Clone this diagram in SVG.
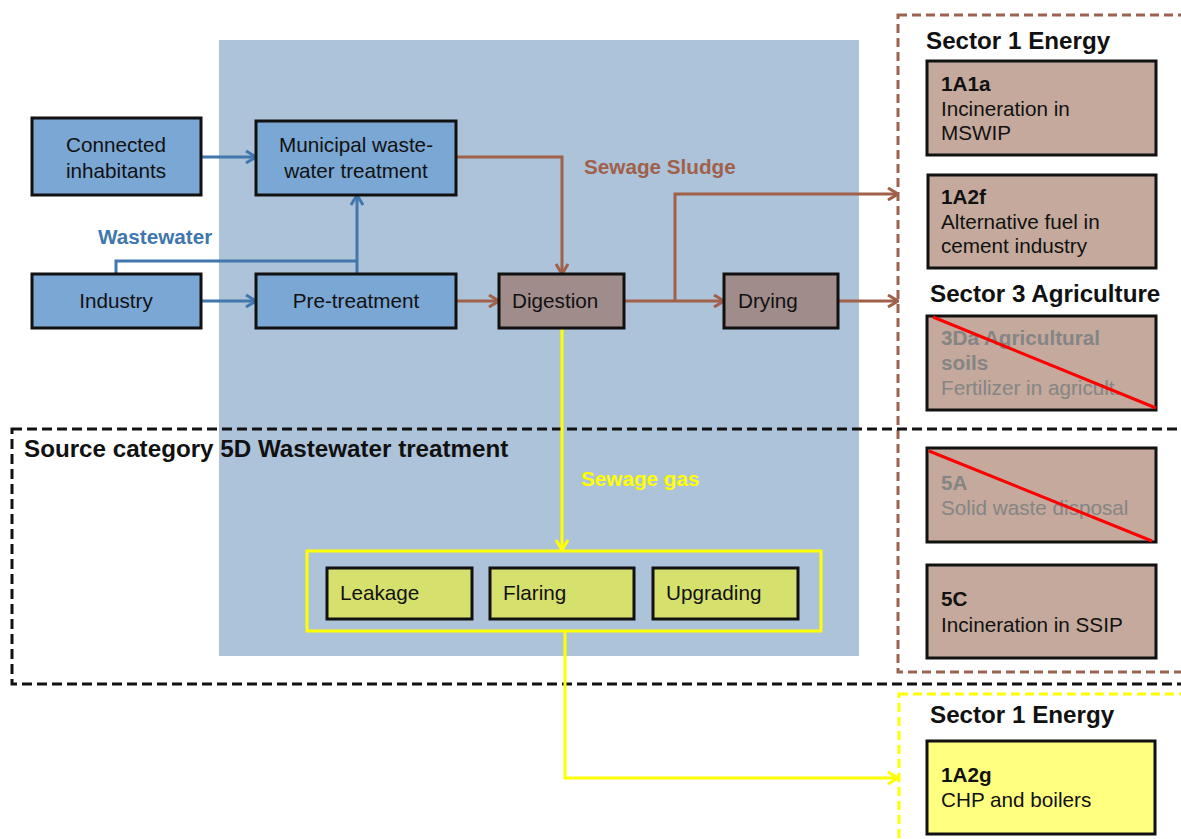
<svg xmlns="http://www.w3.org/2000/svg" width="1181" height="839" viewBox="0 0 1181 839">
<style>
text{font-family:"Liberation Sans",Arial,sans-serif;fill:#111}
.n{font-size:20.7px}
.h{font-size:24.2px;font-weight:bold}
.b{font-weight:bold}
.box{stroke:#111;stroke-width:3}
.blue{fill:#7aa7d4}
.dig{fill:#a08c8a}
.sec{fill:#c4a99c}
.gas{fill:#d6e06c}
.grey{fill:#858585}
.cb{stroke:#4177ad;stroke-width:3;fill:none}
.cr{stroke:#a0604a;stroke-width:3;fill:none}
.cy{stroke:#ffff00;stroke-width:3;fill:none}
.strike{stroke:#ff0000;stroke-width:3}
</style>
<defs>
<marker id="ab" viewBox="0 0 12 14" refX="11" refY="7" markerWidth="12" markerHeight="14" markerUnits="userSpaceOnUse" orient="auto"><path d="M1,1 L11,7 L1,13" fill="none" stroke="#4177ad" stroke-width="3"/></marker>
<marker id="ar" viewBox="0 0 12 14" refX="11" refY="7" markerWidth="12" markerHeight="14" markerUnits="userSpaceOnUse" orient="auto"><path d="M1,1 L11,7 L1,13" fill="none" stroke="#a0604a" stroke-width="3"/></marker>
<marker id="ay" viewBox="0 0 12 14" refX="11" refY="7" markerWidth="12" markerHeight="14" markerUnits="userSpaceOnUse" orient="auto"><path d="M1,1 L11,7 L1,13" fill="none" stroke="#ffff00" stroke-width="3"/></marker>
</defs>
<rect width="1181" height="839" fill="#fff"/>
<rect id="plant-area" x="219" y="40" width="640" height="616" fill="#adc3d9"/>

<g id="frames" fill="none" stroke-width="3">
<rect id="sector-frame" x="898" y="15" width="290" height="657" stroke="#9b6450" stroke-dasharray="9,5"/>
<rect id="source-5d" x="12" y="429" width="1180" height="255" stroke="#111" stroke-dasharray="10,5"/>
<rect id="energy-frame" x="899" y="694" width="290" height="160" stroke="#ffff00" stroke-dasharray="9,5"/>
</g>

<g id="connectors">
<path class="cb" d="M201,157 H256" marker-end="url(#ab)"/>
<path class="cb" d="M201,301 H256" marker-end="url(#ab)"/>
<path class="cb" d="M116,274 V261 H357"/>
<path class="cb" d="M357,274 V195" marker-end="url(#ab)"/>
<path class="cr" d="M456,157 H562 V274" marker-end="url(#ar)"/>
<path class="cr" d="M456,301 H499" marker-end="url(#ar)"/>
<path class="cr" d="M624,301 H724" marker-end="url(#ar)"/>
<path class="cr" d="M675,301 V194 H898" marker-end="url(#ar)"/>
<path class="cr" d="M838,301 H898" marker-end="url(#ar)"/>
<path class="cy" d="M562,329 V550" marker-end="url(#ay)"/>
<path class="cy" d="M565,631 V778 H898" marker-end="url(#ay)"/>
</g>

<g id="labels">
<text class="b" x="98" y="244" style="font-size:20.7px;fill:#4177ad">Wastewater</text>
<text class="b" x="584" y="174" style="font-size:20.7px;fill:#a0604a">Sewage Sludge</text>
<text class="b" x="581" y="486" style="font-size:20.7px;fill:#ffff00">Sewage gas</text>
<text class="h" x="24" y="457">Source category 5D Wastewater treatment</text>
<text class="h" x="926" y="49">Sector 1 Energy</text>
<text class="h" x="930" y="302">Sector 3 Agriculture</text>
<text class="h" x="930" y="723">Sector 1 Energy</text>
</g>

<g id="connected-inhabitants">
<rect class="box blue" x="32" y="118" width="169" height="77"/>
<text class="n" x="116" y="152" text-anchor="middle">Connected</text>
<text class="n" x="116" y="178" text-anchor="middle">inhabitants</text>
</g>
<g id="municipal">
<rect class="box blue" x="256" y="121" width="200" height="74"/>
<text class="n" x="356" y="152" text-anchor="middle">Municipal waste-</text>
<text class="n" x="356" y="178" text-anchor="middle">water treatment</text>
</g>
<g id="industry">
<rect class="box blue" x="32" y="274" width="169" height="54"/>
<text class="n" x="116" y="308" text-anchor="middle">Industry</text>
</g>
<g id="pre-treatment">
<rect class="box blue" x="256" y="274" width="200" height="54"/>
<text class="n" x="356" y="308" text-anchor="middle">Pre-treatment</text>
</g>
<g id="digestion">
<rect class="box dig" x="499" y="274" width="125" height="54"/>
<text class="n" x="512" y="308">Digestion</text>
</g>
<g id="drying">
<rect class="box dig" x="724" y="274" width="114" height="54"/>
<text class="n" x="738" y="308">Drying</text>
</g>

<g id="gas-use">
<rect x="307" y="551" width="514" height="80" fill="none" stroke="#ffff00" stroke-width="3"/>
<g id="leakage"><rect class="box gas" x="327" y="568" width="145" height="51"/><text class="n" x="340" y="600">Leakage</text></g>
<g id="flaring"><rect class="box gas" x="490" y="568" width="144" height="51"/><text class="n" x="503" y="600">Flaring</text></g>
<g id="upgrading"><rect class="box gas" x="653" y="568" width="145" height="51"/><text class="n" x="666" y="600">Upgrading</text></g>
</g>

<g id="n1A1a">
<rect class="box sec" x="927" y="61" width="229" height="94"/>
<text class="n b" x="941" y="91">1A1a</text>
<text class="n" x="941" y="116">Incineration in</text>
<text class="n" x="941" y="140">MSWIP</text>
</g>
<g id="n1A2f">
<rect class="box sec" x="928" y="175" width="228" height="93"/>
<text class="n b" x="941" y="204">1A2f</text>
<text class="n" x="941" y="229">Alternative fuel in</text>
<text class="n" x="941" y="253">cement industry</text>
</g>
<g id="n3Da">
<rect class="box sec" x="927" y="316" width="229" height="94"/>
<text class="n b grey" x="941" y="345">3Da Agricultural</text>
<text class="n b grey" x="941" y="370">soils</text>
<text class="n grey" x="941" y="395">Fertilizer in agricult.</text>
<line class="strike" x1="933" y1="317" x2="1156" y2="408"/>
</g>
<g id="n5A">
<rect class="box sec" x="927" y="448" width="229" height="94"/>
<text class="n b grey" x="941" y="490">5A</text>
<text class="n grey" x="941" y="515">Solid waste disposal</text>
<line class="strike" x1="929" y1="451" x2="1152" y2="541"/>
</g>
<g id="n5C">
<rect class="box sec" x="927" y="565" width="229" height="93"/>
<text class="n b" x="941" y="606">5C</text>
<text class="n" x="941" y="632">Incineration in SSIP</text>
</g>
<g id="n1A2g">
<rect class="box" x="927" y="741" width="228" height="93" fill="#ffff80"/>
<text class="n b" x="941" y="782">1A2g</text>
<text class="n" x="941" y="807">CHP and boilers</text>
</g>
</svg>
